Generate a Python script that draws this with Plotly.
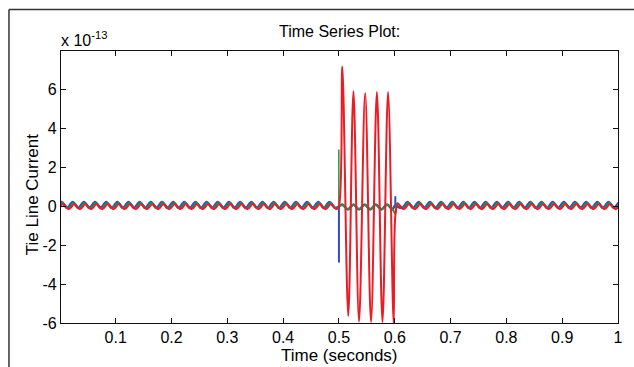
import numpy as np
import plotly.graph_objects as go

# ---------------- data (values in units of 1e-13) ----------------
HALF_PERIOD = 0.01          # 50 Hz system, extrema every half cycle
FAULT_START = 0.5
FAULT_END = 0.6

# steady-state waves: time of a first peak, peak value, trough value
blue_first_peak, blue_peak, blue_trough = 0.0030, 0.20, -0.10
green_first_peak, green_peak, green_trough = 0.0045, 0.15, -0.13
red_first_peak, red_peak, red_trough = 0.0060, 0.10, -0.16

# fault period, red phase extrema
red_fault_t = [0.500, 0.506, 0.5167, 0.526, 0.536, 0.547, 0.5575, 0.568, 0.578, 0.588, 0.598, 0.6015]
red_fault_v = [0.00, 7.16, -5.64, 5.89, -5.93, 5.80, -5.95, 5.85, -5.95, 5.85, -6.00, -0.35]

# fault period, blue phase small oscillation extrema
blue_fault_t = [0.501, 0.506, 0.516, 0.526, 0.536, 0.546, 0.556, 0.566, 0.576, 0.586, 0.596, 0.600]
blue_fault_v = [0.00, 0.08, -0.18, 0.08, -0.18, 0.08, -0.18, 0.08, -0.18, 0.08, -0.18, 0.00]

# fault period, green phase (mostly hidden)
green_fault_t = [0.501, 0.506, 0.516, 0.526, 0.536, 0.546, 0.556, 0.566, 0.576, 0.586, 0.596, 0.601]
green_fault_v = [0.00, 0.05, -0.15, 0.05, -0.15, 0.05, -0.15, 0.05, -0.15, 0.05, -0.15, -0.40]

# switching spikes
blue_spike1_t, blue_spike1_v = [0.500, 0.500], [0.00, -2.90]
blue_spike2_t, blue_spike2_v = [0.601, 0.601], [0.00, 0.50]
green_spike_t, green_spike_v = [0.4998, 0.4998], [0.00, 2.90]

x_tick_vals = [0.1, 0.2, 0.3, 0.4, 0.5, 0.6, 0.7, 0.8, 0.9, 1.0]
x_tick_text = ["0.1", "0.2", "0.3", "0.4", "0.5", "0.6", "0.7", "0.8", "0.9", "1"]
y_tick_vals = [-6, -4, -2, 0, 2, 4, 6]
y_tick_text = ["-6", "-4", "-2", "0", "2", "4", "6"]

BLUE = "#2f4fc0"
GREEN = "#2a9440"
RED = "#ec1c24"


def steady(first_peak, peak, trough, t0, t1):
    ts, vs = [], []
    n = -2
    while True:
        t = first_peak + n * HALF_PERIOD
        if t > t1:
            break
        if t >= t0:
            ts.append(t)
            vs.append(peak if n % 2 == 0 else trough)
        n += 1
    return ts, vs


def series(first_peak, peak, trough, fault_t, fault_v):
    t_a, v_a = steady(first_peak, peak, trough, -0.03, FAULT_START - 0.002)
    t_b, v_b = steady(first_peak, peak, trough, FAULT_END + 0.004, 1.03)
    return t_a + fault_t + t_b, v_a + fault_v + v_b


bt, bv = series(blue_first_peak, blue_peak, blue_trough, blue_fault_t, blue_fault_v)
gt, gv = series(green_first_peak, green_peak, green_trough, green_fault_t, green_fault_v)
rt, rv = series(red_first_peak, red_peak, red_trough, red_fault_t, red_fault_v)

fig = go.Figure()
LW = 2
fig.add_trace(go.Scatter(x=bt, y=bv, mode="lines", line=dict(color=BLUE, width=LW + 0.5, shape="spline"), showlegend=False))
fig.add_trace(go.Scatter(x=blue_spike1_t, y=blue_spike1_v, mode="lines", line=dict(color=BLUE, width=LW), showlegend=False))
fig.add_trace(go.Scatter(x=blue_spike2_t, y=blue_spike2_v, mode="lines", line=dict(color=BLUE, width=LW), showlegend=False))
fig.add_trace(go.Scatter(x=green_spike_t, y=green_spike_v, mode="lines", line=dict(color=GREEN, width=1.5), showlegend=False))
fig.add_trace(go.Scatter(x=gt, y=gv, mode="lines", line=dict(color=GREEN, width=LW, shape="spline"), showlegend=False))
fig.add_trace(go.Scatter(x=rt, y=rv, mode="lines", line=dict(color=RED, width=LW, shape="spline"), showlegend=False))

W, H = 634, 367
L, R, T, B = 61, 11, 51, 44
pw, ph = W - L - R, H - T - B

def px_x(px):
    return (px - L) / pw

def px_y(py):
    return (H - B - py) / ph

FONT = "Liberation Sans, Arial, Helvetica, sans-serif"

fig.update_layout(
    width=W, height=H,
    margin=dict(l=L, r=R, t=T, b=B),
    paper_bgcolor="white", plot_bgcolor="white",
    font=dict(family=FONT, size=16, color="#000"),
    showlegend=False,
    xaxis=dict(range=[0.002, 1.0], tickvals=x_tick_vals, ticktext=x_tick_text,
               ticks="inside", ticklen=5, tickcolor="#111", mirror="ticks",
               showline=True, linecolor="#111", linewidth=1.2, showgrid=False,
               zeroline=False, tickfont=dict(size=16)),
    yaxis=dict(range=[-6, 7.95], tickvals=y_tick_vals, ticktext=y_tick_text,
               ticks="inside", ticklen=5, tickcolor="#111", mirror="ticks",
               showline=True, linecolor="#111", linewidth=1.2, showgrid=False,
               zeroline=False, tickfont=dict(size=16)),
    annotations=[
        dict(text="Time Series Plot:", x=0.5, y=px_y(31), xref="paper", yref="paper",
             xanchor="center", yanchor="middle", showarrow=False, font=dict(size=16)),
        dict(text="x 10<sup>-13</sup>", x=px_x(59), y=px_y(39), xref="paper", yref="paper",
             xanchor="left", yanchor="middle", showarrow=False, font=dict(size=16)),
        dict(text="Time (seconds)", x=0.5, y=px_y(355), xref="paper", yref="paper",
             xanchor="center", yanchor="middle", showarrow=False, font=dict(size=17)),
        dict(text="Tie Line Current", x=px_x(32), y=px_y(194), xref="paper", yref="paper",
             xanchor="center", yanchor="middle", textangle=-90, showarrow=False, font=dict(size=17)),
    ],
    shapes=[
        dict(type="line", xref="paper", yref="paper", x0=px_x(8.5), x1=px_x(640), y0=px_y(9.5), y1=px_y(9.5),
             line=dict(color="#333", width=1.5)),
        dict(type="line", xref="paper", yref="paper", x0=px_x(8.5), x1=px_x(8.5), y0=px_y(9.5), y1=px_y(370),
             line=dict(color="#333", width=1.5)),
    ],
)

fig.write_html(
    "out.html",
    config={"displayModeBar": False},
    post_script="document.body.style.margin='0';document.body.style.overflow='hidden';",
)
